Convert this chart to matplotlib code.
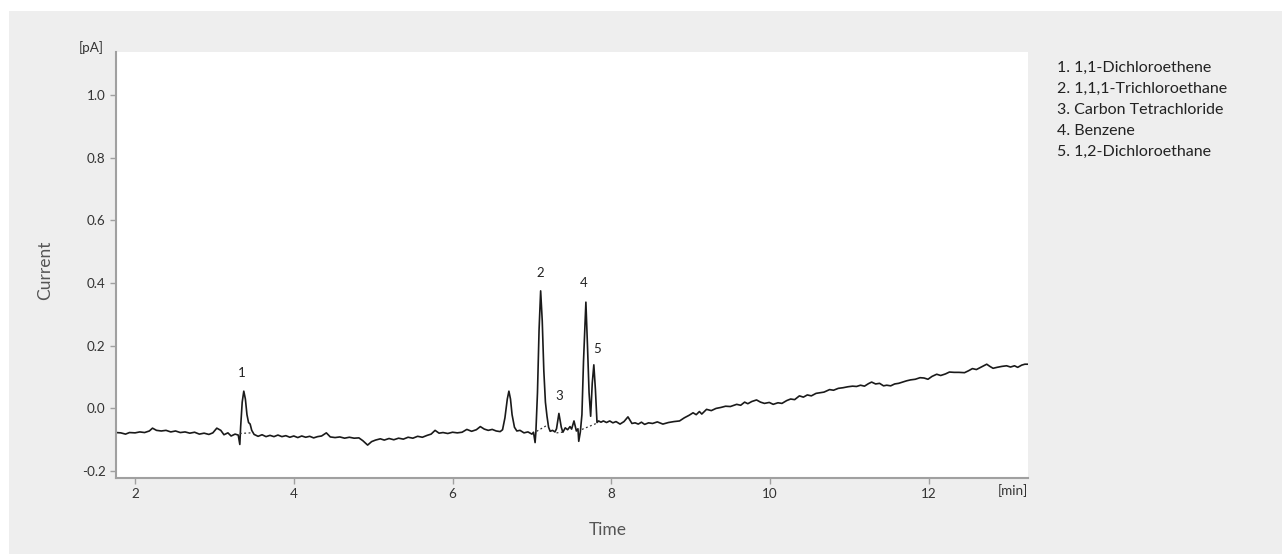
import matplotlib
matplotlib.use("Agg")
import matplotlib.pyplot as plt
from matplotlib.patches import Rectangle

plt.rcParams['font.family'] = ['Lato', 'DejaVu Sans']

# ---- data ----
time_min = [1.76, 1.82, 1.88, 1.93, 2.00, 2.06, 2.12, 2.18, 2.22, 2.27, 2.33, 2.39, 2.45, 2.51,
            2.57, 2.63, 2.69, 2.75, 2.81, 2.87, 2.93, 2.98, 3.03, 3.08, 3.12, 3.17, 3.21, 3.26,
            3.30, 3.32, 3.33, 3.35, 3.37, 3.39, 3.41, 3.43, 3.45, 3.47,
            3.50, 3.55, 3.60, 3.65, 3.70, 3.75, 3.80, 3.85, 3.90, 3.95, 4.00, 4.05, 4.10, 4.15,
            4.20, 4.25, 4.30, 4.35, 4.41, 4.46, 4.52, 4.58, 4.64, 4.70, 4.76, 4.82, 4.87, 4.93,
            4.98, 5.03, 5.09, 5.14, 5.20, 5.26, 5.32, 5.38, 5.44, 5.50, 5.56, 5.62, 5.68, 5.73,
            5.78, 5.83, 5.88, 5.94, 6.00, 6.06, 6.12, 6.18, 6.24, 6.30, 6.35, 6.40, 6.45, 6.50,
            6.55, 6.60, 6.63, 6.66, 6.69, 6.71, 6.73, 6.75, 6.78, 6.81, 6.85, 6.90, 6.95, 7.00,
            7.02, 7.04, 7.05, 7.07, 7.09, 7.11, 7.13, 7.15, 7.17, 7.19, 7.21, 7.23, 7.26, 7.29,
            7.31, 7.34, 7.37, 7.39, 7.42, 7.45, 7.48, 7.50, 7.53, 7.56, 7.58, 7.59, 7.61, 7.63,
            7.65, 7.68, 7.70, 7.72, 7.74, 7.76, 7.78, 7.80, 7.82, 7.84, 7.87, 7.90, 7.94, 7.98,
            8.02, 8.06, 8.11, 8.16, 8.21, 8.26, 8.30, 8.34, 8.38, 8.42, 8.47, 8.52, 8.58, 8.65,
            8.72, 8.79, 8.86, 8.92, 8.98, 9.03, 9.07, 9.11, 9.14, 9.20, 9.26, 9.32, 9.38, 9.44,
            9.50, 9.58, 9.63, 9.68, 9.72, 9.77, 9.83, 9.88, 9.93, 9.99, 10.04, 10.10, 10.15,
            10.21, 10.26, 10.31, 10.37, 10.42, 10.47, 10.52, 10.58, 10.63, 10.68, 10.75, 10.80,
            10.86, 10.92, 10.98, 11.04, 11.09, 11.14, 11.19, 11.24, 11.28, 11.33, 11.38, 11.43,
            11.47, 11.52, 11.57, 11.62, 11.67, 11.72, 11.77, 11.83, 11.89, 11.94, 11.99, 12.04,
            12.10, 12.15, 12.21, 12.26, 12.32, 12.38, 12.45, 12.50, 12.55, 12.60, 12.66, 12.73,
            12.77, 12.81, 12.86, 12.92, 12.98, 13.03, 13.08, 13.12, 13.17, 13.21, 13.25]

current_pA = [-0.077, -0.078, -0.082, -0.077, -0.078, -0.075, -0.077, -0.072, -0.063, -0.070,
              -0.072, -0.070, -0.075, -0.072, -0.077, -0.075, -0.079, -0.076, -0.082, -0.079,
              -0.083, -0.078, -0.063, -0.070, -0.084, -0.078, -0.088, -0.082,
              -0.085, -0.115, -0.060, 0.020, 0.055, 0.030, -0.020, -0.045, -0.050, -0.070,
              -0.083, -0.089, -0.084, -0.090, -0.086, -0.090, -0.085, -0.090, -0.087, -0.092,
              -0.088, -0.093, -0.088, -0.092, -0.089, -0.094, -0.090, -0.088, -0.078, -0.091,
              -0.093, -0.091, -0.095, -0.092, -0.095, -0.094, -0.103, -0.117, -0.106, -0.101,
              -0.097, -0.101, -0.096, -0.100, -0.095, -0.098, -0.092, -0.095, -0.089, -0.092,
              -0.086, -0.082, -0.070, -0.079, -0.077, -0.080, -0.076, -0.078, -0.076, -0.067,
              -0.073, -0.068, -0.058, -0.066, -0.070, -0.067, -0.072, -0.074, -0.068, -0.030,
              0.030, 0.055, 0.030, -0.020, -0.060, -0.072, -0.070, -0.078, -0.075, -0.082,
              -0.076, -0.109, -0.075, 0.050, 0.250, 0.375, 0.280, 0.120, 0.020, -0.025, -0.060,
              -0.073, -0.070, -0.075,
              -0.065, -0.016, -0.060, -0.076, -0.062, -0.068, -0.058, -0.066, -0.040, -0.072,
              -0.065, -0.105, -0.075, -0.020, 0.150, 0.339, 0.200, 0.050, -0.025, 0.080, 0.139,
              0.060, -0.045, -0.040, -0.044, -0.040, -0.045, -0.040, -0.046, -0.042, -0.050,
              -0.042, -0.027, -0.048, -0.046, -0.050, -0.044, -0.051, -0.046, -0.048, -0.043,
              -0.050, -0.045, -0.042, -0.040, -0.030, -0.022, -0.014, -0.020, -0.010, -0.018,
              -0.003, -0.007, 0.000, 0.003, 0.007, 0.006, 0.013, 0.010, 0.020, 0.015, 0.022,
              0.027, 0.020, 0.016, 0.019, 0.013, 0.018, 0.016, 0.025, 0.030, 0.028, 0.040,
              0.036, 0.043, 0.040, 0.048, 0.050, 0.052, 0.060, 0.058, 0.064, 0.066, 0.069,
              0.071, 0.070, 0.074, 0.071, 0.079, 0.084, 0.078, 0.080, 0.072, 0.074, 0.072,
              0.078, 0.080, 0.084, 0.088, 0.091, 0.093, 0.098, 0.097, 0.093, 0.102, 0.109,
              0.105, 0.110, 0.116, 0.115, 0.115, 0.114, 0.120, 0.127, 0.124, 0.132, 0.141,
              0.134, 0.128, 0.131, 0.134, 0.136, 0.132, 0.136, 0.131, 0.138, 0.141, 0.141]

# integration baselines (dotted): start time, start value, end time, end value
base_t0 = [3.32, 7.06, 7.31, 7.63]
base_y0 = [-0.080, -0.073, -0.078, -0.067]
base_t1 = [3.46, 7.21, 7.38, 7.83]
base_y1 = [-0.078, -0.051, -0.076, -0.046]

# peak labels
peak_ids = ['1', '2', '3', '4', '5']
peak_t = [3.35, 7.10, 7.34, 7.65, 7.82]
peak_y = [0.112, 0.433, 0.038, 0.400, 0.190]

compounds = ['1. 1,1-Dichloroethene', '2. 1,1,1-Trichloroethane',
             '3. Carbon Tetrachloride', '4. Benzene', '5. 1,2-Dichloroethane']

x_ticks = [2, 4, 6, 8, 10, 12]
y_ticks = [-0.2, 0.0, 0.2, 0.4, 0.6, 0.8, 1.0]

# ---- figure ----
W, H = 1282, 554
fig = plt.figure(figsize=(W / 100, H / 100), dpi=100, facecolor='white')
fig.patches.append(Rectangle((9 / W, 0), 1 - 9 / W, (H - 11) / H,
                             transform=fig.transFigure, facecolor='#eeeeee',
                             edgecolor='none', zorder=-10))

ax = fig.add_axes([116 / W, 1 - 478 / H, (1028 - 116) / W, (478 - 52) / H])
ax.set_facecolor('white')
ax.plot(time_min, current_pA, color='#1a1a1a', lw=1.2)
for a, b, c, d in zip(base_t0, base_y0, base_t1, base_y1):
    ax.plot([a, c], [b, d], color='#333333', lw=0.9, ls=(0, (1.5, 2)))
for lab, t, y in zip(peak_ids, peak_t, peak_y):
    ax.text(t, y, lab, ha='center', va='center', fontsize=9.5, color='#222222')

ax.set_xlim(1.76, 13.25)
ax.set_ylim(-0.222, 1.137)
ax.set_xticks(x_ticks)
ax.set_xticklabels([str(v) for v in x_ticks])
ax.set_yticks(y_ticks)
ax.set_yticklabels([f'{v:.1f}' for v in y_ticks])
for s in ['top', 'right']:
    ax.spines[s].set_visible(False)
for s in ['left', 'bottom']:
    ax.spines[s].set_color('#a0a0a0')
    ax.spines[s].set_linewidth(1.5)
ax.tick_params(axis='both', colors='#a0a0a0', labelcolor='#333333', labelsize=9.7,
               length=4, width=1)

fig.text(104 / W, 1 - 48 / H, '[pA]', ha='right', va='center',
         fontsize=9.7, color='#333333')
fig.text(1013 / W, 1 - 491 / H, '[min]', ha='center', va='center',
         fontsize=9.7, color='#333333')

fig.text(45 / W, 1 - 270 / H, 'Current', rotation=90, ha='center', va='center',
         fontsize=12.5, color='#555555')
fig.text(608 / W, 1 - 530 / H, 'Time', ha='center', va='center',
         fontsize=12.5, color='#555555')

for i, c in enumerate(compounds):
    fig.text(1057 / W, 1 - (68 + 21 * i) / H, c, ha='left', va='center',
             fontsize=11.5, color='#222222')

fig.savefig('out.png', dpi=100, facecolor=fig.get_facecolor())
